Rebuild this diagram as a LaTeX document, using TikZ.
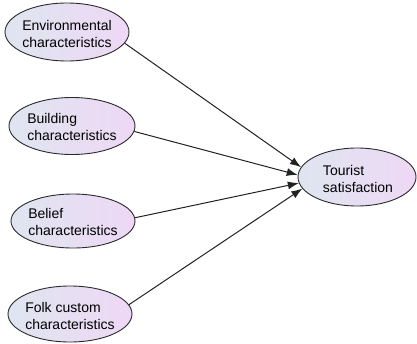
\documentclass[tikz,border=0pt]{standalone}
\usepackage{fontspec}
\setmainfont{Liberation Sans}
\usetikzlibrary{shapes.geometric,arrows.meta}
\definecolor{shadeL}{HTML}{DFE5F0}
\definecolor{shadeR}{HTML}{EED8F5}
\definecolor{edgeC}{HTML}{2A2A2A}
\definecolor{lineC}{HTML}{222222}
\tikzset{
  ell/.style={ellipse, draw=edgeC, line width=0.9pt, left color=shadeL, right color=shadeR, inner sep=0pt},
  txt/.style={align=left, inner sep=0pt, font=\fontsize{14}{17}\selectfont, text=black},
  conn/.style={draw=lineC, line width=1pt, -{Latex[length=11pt,width=8pt]}}
}
\begin{document}
\begin{tikzpicture}[x=1pt,y=-1pt]
\useasboundingbox (0,0) rectangle (417,343);
\node[ell, minimum width=124pt, minimum height=58pt] (env) at (67,32) {};
\node[txt] (envt) at (67,34) {Environmental\\characteristics};
\node[ell, minimum width=126pt, minimum height=57pt] (bld) at (72,126) {};
\node[txt] (bldt) at (72,127) {Building\\characteristics};
\node[ell, minimum width=124pt, minimum height=54pt] (bel) at (73,221) {};
\node[txt] (belt) at (73,222) {Belief\\characteristics};
\node[ell, minimum width=124pt, minimum height=56pt] (folk) at (70,314) {};
\node[txt] (folkt) at (70,316) {Folk custom\\characteristics};
\node[ell, minimum width=118pt, minimum height=58pt] (tour) at (357,177) {};
\node[txt] (tourt) at (358,179) {Tourist\\satisfaction};
\draw[conn] (env.-11) -- (tour.170);
\draw[conn] (bld.-5) -- (tour.178);
\draw[conn] (bel.3) -- (tour.186);
\draw[conn] (folk.9) -- (tour.192);
\end{tikzpicture}
\end{document}
